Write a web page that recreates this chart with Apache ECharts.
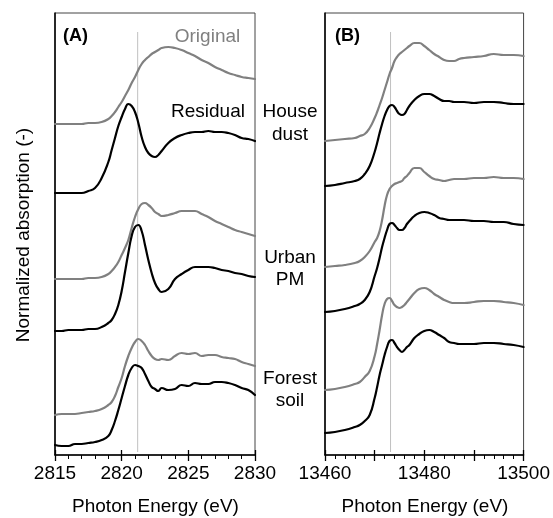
<!DOCTYPE html>
<html>
<head>
<meta charset="utf-8">
<script src="https://cdn.jsdelivr.net/npm/echarts@6/dist/echarts.min.js"></script>
<style>
  html, body { margin: 0; padding: 0; background: #ffffff; }
  #chart { width: 553px; height: 518px; }
</style>
</head>
<body>
<div id="chart"></div>
<script>
// ---------- DATA ----------
// Panel (A): photon energy grid (eV)
const energyA = [2815, 2815.5, 2816, 2816.5, 2817, 2817.5, 2818, 2818.5, 2819, 2819.25, 2819.5, 2819.75,
  2820, 2820.25, 2820.5, 2820.75, 2821, 2821.25, 2821.5, 2821.75, 2822, 2822.25, 2822.5, 2822.75,
  2823, 2823.5, 2824, 2824.5, 2825, 2825.5, 2826, 2826.5, 2827, 2827.5, 2828, 2828.5, 2829, 2829.5, 2830];
// Normalized absorption (stacked with offsets)
const houseOriginalA = [3.31,3.31,3.31,3.31,3.31,3.32,3.32,3.33,3.36,3.39,3.43,3.48,3.53,3.59,3.65,3.72,3.78,3.85,3.91,3.95,3.98,4.01,4.03,4.05,4.07,4.08,4.07,4.05,4.02,3.99,3.95,3.92,3.88,3.85,3.82,3.80,3.78,3.77,3.76];
const houseResidualA = [2.62,2.62,2.62,2.62,2.62,2.64,2.67,2.77,2.93,3.05,3.17,3.29,3.38,3.46,3.51,3.49,3.43,3.32,3.18,3.08,3.02,2.99,2.98,3.00,3.04,3.12,3.17,3.20,3.22,3.23,3.23,3.24,3.23,3.23,3.22,3.20,3.17,3.16,3.14];
const urbanOriginalA = [1.76,1.76,1.76,1.76,1.76,1.77,1.77,1.78,1.81,1.84,1.88,1.93,2.00,2.07,2.15,2.27,2.38,2.46,2.51,2.52,2.50,2.47,2.43,2.41,2.39,2.40,2.42,2.44,2.44,2.44,2.41,2.38,2.34,2.31,2.28,2.25,2.23,2.21,2.19];
const urbanResidualA = [1.24,1.24,1.25,1.25,1.25,1.26,1.26,1.28,1.32,1.35,1.41,1.50,1.64,1.83,2.02,2.19,2.28,2.30,2.24,2.10,1.95,1.82,1.72,1.66,1.63,1.66,1.76,1.81,1.85,1.88,1.88,1.88,1.87,1.85,1.84,1.82,1.81,1.79,1.78];
const forestOriginalA = [0.40,0.41,0.41,0.41,0.42,0.43,0.44,0.46,0.50,0.53,0.59,0.68,0.77,0.89,0.99,1.07,1.13,1.16,1.14,1.10,1.04,0.99,0.96,0.95,0.96,0.95,0.99,1.02,1.01,1.02,0.99,1.00,1.00,0.98,0.97,0.96,0.93,0.91,0.89];
const forestResidualA = [0.10,0.09,0.09,0.11,0.11,0.12,0.13,0.15,0.19,0.25,0.34,0.45,0.57,0.69,0.80,0.87,0.90,0.89,0.87,0.81,0.74,0.68,0.66,0.64,0.67,0.65,0.66,0.70,0.69,0.72,0.71,0.71,0.73,0.73,0.72,0.70,0.67,0.65,0.60];

// Panel (B)
const energyB = [13460, 13462, 13464, 13466, 13467, 13468, 13469, 13470, 13470.5, 13471, 13471.5, 13472,
  13472.5, 13473, 13473.5, 13474, 13474.5, 13475, 13475.5, 13476, 13476.5, 13477, 13478, 13479, 13480,
  13481, 13482, 13483, 13484, 13485, 13486, 13487, 13488, 13490, 13492, 13494, 13496, 13498, 13500];
const houseOriginalB = [3.14,3.15,3.16,3.17,3.19,3.21,3.27,3.37,3.43,3.50,3.57,3.65,3.73,3.81,3.87,3.94,3.98,4.01,4.03,4.05,4.07,4.09,4.12,4.12,4.09,4.05,4.01,3.98,3.95,3.94,3.94,3.96,3.97,3.98,3.99,4.01,4.00,4.00,3.99];
const houseResidualB = [2.69,2.70,2.72,2.74,2.76,2.81,2.89,3.03,3.12,3.22,3.31,3.39,3.45,3.49,3.50,3.48,3.44,3.41,3.40,3.41,3.45,3.49,3.55,3.59,3.61,3.61,3.59,3.56,3.54,3.54,3.53,3.53,3.53,3.52,3.53,3.53,3.52,3.51,3.51];
const urbanOriginalB = [1.88,1.89,1.90,1.92,1.94,1.98,2.04,2.13,2.17,2.24,2.35,2.49,2.60,2.66,2.69,2.71,2.72,2.73,2.74,2.77,2.79,2.82,2.87,2.87,2.83,2.79,2.76,2.75,2.74,2.75,2.76,2.76,2.76,2.77,2.77,2.78,2.77,2.77,2.76];
const urbanResidualB = [1.43,1.44,1.46,1.49,1.51,1.55,1.63,1.79,1.87,1.97,2.08,2.17,2.25,2.31,2.32,2.30,2.27,2.25,2.25,2.27,2.31,2.34,2.39,2.42,2.43,2.42,2.40,2.37,2.36,2.35,2.35,2.35,2.35,2.34,2.34,2.33,2.33,2.31,2.30];
const forestOriginalB = [0.65,0.66,0.68,0.71,0.73,0.78,0.84,0.99,1.11,1.25,1.40,1.51,1.56,1.57,1.54,1.50,1.48,1.47,1.48,1.50,1.53,1.56,1.62,1.66,1.67,1.65,1.61,1.58,1.55,1.53,1.52,1.52,1.52,1.53,1.54,1.54,1.53,1.52,1.50];
const forestResidualB = [0.22,0.23,0.25,0.28,0.30,0.34,0.40,0.57,0.68,0.80,0.90,1.00,1.08,1.14,1.15,1.12,1.08,1.05,1.03,1.05,1.08,1.10,1.17,1.21,1.24,1.25,1.23,1.20,1.17,1.13,1.12,1.11,1.11,1.11,1.12,1.12,1.11,1.10,1.08];

// Axis tick labels
const tickLabelsA = [2815, 2820, 2825, 2830];
const tickLabelsB = [13460, 13480, 13500];
// Reference lines (energy) and their vertical extent
const refEnergyA = 2821.2;
const refEnergyB = 13473.2;
const refSpan = [0.03, 4.23];
const sampleLabels = [['House', 'dust'], ['Urban', 'PM'], ['Forest', 'soil']];

// ---------- CHART ----------
const FONT = '"Liberation Sans", Arial, Helvetica, sans-serif';
const GRAY = '#808080';
const chart = echarts.init(document.getElementById('chart'), null, { renderer: 'canvas' });

function pairs(xs, ys) { return xs.map((x, i) => [x, ys[i]]); }

function lineSeries(xi, data, color) {
  return {
    type: 'line', xAxisIndex: xi, yAxisIndex: xi < 2 ? 0 : 1,
    data: data, showSymbol: false, smooth: 0.5, silent: true,
    lineStyle: { color: color, width: 2.2, join: 'round', cap: 'round' }, z: 3
  };
}

function refSeries(xi, e) {
  return {
    type: 'line', xAxisIndex: xi, yAxisIndex: xi < 2 ? 0 : 1,
    data: [[e, refSpan[0]], [e, refSpan[1]]], showSymbol: false, silent: true,
    lineStyle: { color: '#c0c0c0', width: 1 }, z: 2
  };
}

function xAxes(gridIndex, min, max, interval, labels) {
  return [
    {
      type: 'value', gridIndex: gridIndex, position: 'bottom', min: min, max: max, interval: interval,
      axisLine: { show: true, onZero: false, lineStyle: { color: '#000', width: 1.5 } },
      axisTick: { show: true, inside: false, length: 6, lineStyle: { color: '#000', width: 1.3 } },
      minorTick: { show: true, splitNumber: 5, length: 4, lineStyle: { color: '#000', width: 1 } },
      splitLine: { show: false }, minorSplitLine: { show: false },
      axisLabel: {
        show: true, margin: 9, color: '#000', fontSize: 19, fontFamily: FONT,
        formatter: v => (labels.indexOf(v) >= 0 ? String(v) : '')
      }
    },
    {
      type: 'value', gridIndex: gridIndex, position: 'bottom', min: min, max: max, interval: interval,
      axisLine: { show: false, onZero: false },
      axisTick: { show: true, inside: true, length: 5, lineStyle: { color: '#000', width: 1.3 } },
      axisLabel: { show: false }, splitLine: { show: false }
    }
  ];
}

function yAxis(gridIndex) {
  return {
    type: 'value', gridIndex: gridIndex, min: 0, max: 4.42,
    axisLine: { show: true, lineStyle: { color: '#000', width: 1.5 } },
    axisTick: { show: false }, axisLabel: { show: false }, splitLine: { show: false }
  };
}

const graphics = [
  { type: 'text', x: 63, y: 36, style: { text: '(A)', font: 'bold 18px ' + FONT, fill: '#000', align: 'left', verticalAlign: 'middle', textAlign: 'left', textVerticalAlign: 'middle' } },
  { type: 'text', x: 335, y: 36, style: { text: '(B)', font: 'bold 18px ' + FONT, fill: '#000', align: 'left', verticalAlign: 'middle', textAlign: 'left', textVerticalAlign: 'middle' } },
  { type: 'text', x: 207.5, y: 37, style: { text: 'Original', font: '19px ' + FONT, fill: GRAY, align: 'center', verticalAlign: 'middle', textAlign: 'center', textVerticalAlign: 'middle' } },
  { type: 'text', x: 208, y: 111.5, style: { text: 'Residual', font: '19px ' + FONT, fill: '#000', align: 'center', verticalAlign: 'middle', textAlign: 'center', textVerticalAlign: 'middle' } },
  { type: 'text', x: 155.5, y: 507, style: { text: 'Photon Energy (eV)', font: '19px ' + FONT, fill: '#000', align: 'center', verticalAlign: 'middle', textAlign: 'center', textVerticalAlign: 'middle' } },
  { type: 'text', x: 425, y: 507, style: { text: 'Photon Energy (eV)', font: '19px ' + FONT, fill: '#000', align: 'center', verticalAlign: 'middle', textAlign: 'center', textVerticalAlign: 'middle' } },
  { type: 'text', x: 24, y: 235, rotation: Math.PI / 2, style: { text: 'Normalized absorption (-)', font: '19px ' + FONT, fill: '#000', align: 'center', verticalAlign: 'middle', textAlign: 'center', textVerticalAlign: 'middle' } }
];
const labelYs = [[112, 134.5], [257.5, 280], [378.5, 401]];
sampleLabels.forEach((pair, i) => {
  pair.forEach((t, j) => {
    graphics.push({ type: 'text', x: 290, y: labelYs[i][j], style: { text: t, font: '19px ' + FONT, fill: '#000', align: 'center', verticalAlign: 'middle', textAlign: 'center', textVerticalAlign: 'middle' } });
  });
});

const option = {
  animation: false,
  backgroundColor: '#ffffff',
  grid: [
    { left: 55, width: 200, top: 13, height: 442, show: true, borderColor: '#444', borderWidth: 1, backgroundColor: 'transparent' },
    { left: 325, width: 200, top: 13, height: 442, show: true, borderColor: '#444', borderWidth: 1, backgroundColor: 'transparent' }
  ],
  xAxis: [].concat(
    xAxes(0, 2815, 2830, 5, tickLabelsA),
    xAxes(1, 13460, 13500, 10, tickLabelsB)
  ),
  yAxis: [yAxis(0), yAxis(1)],
  series: [
    refSeries(0, refEnergyA),
    lineSeries(0, pairs(energyA, houseOriginalA), GRAY),
    lineSeries(0, pairs(energyA, houseResidualA), '#000'),
    lineSeries(0, pairs(energyA, urbanOriginalA), GRAY),
    lineSeries(0, pairs(energyA, urbanResidualA), '#000'),
    lineSeries(0, pairs(energyA, forestOriginalA), GRAY),
    lineSeries(0, pairs(energyA, forestResidualA), '#000'),
    refSeries(2, refEnergyB),
    lineSeries(2, pairs(energyB, houseOriginalB), GRAY),
    lineSeries(2, pairs(energyB, houseResidualB), '#000'),
    lineSeries(2, pairs(energyB, urbanOriginalB), GRAY),
    lineSeries(2, pairs(energyB, urbanResidualB), '#000'),
    lineSeries(2, pairs(energyB, forestOriginalB), GRAY),
    lineSeries(2, pairs(energyB, forestResidualB), '#000')
  ],
  graphic: graphics
};
chart.setOption(option);
</script>
</body>
</html>
